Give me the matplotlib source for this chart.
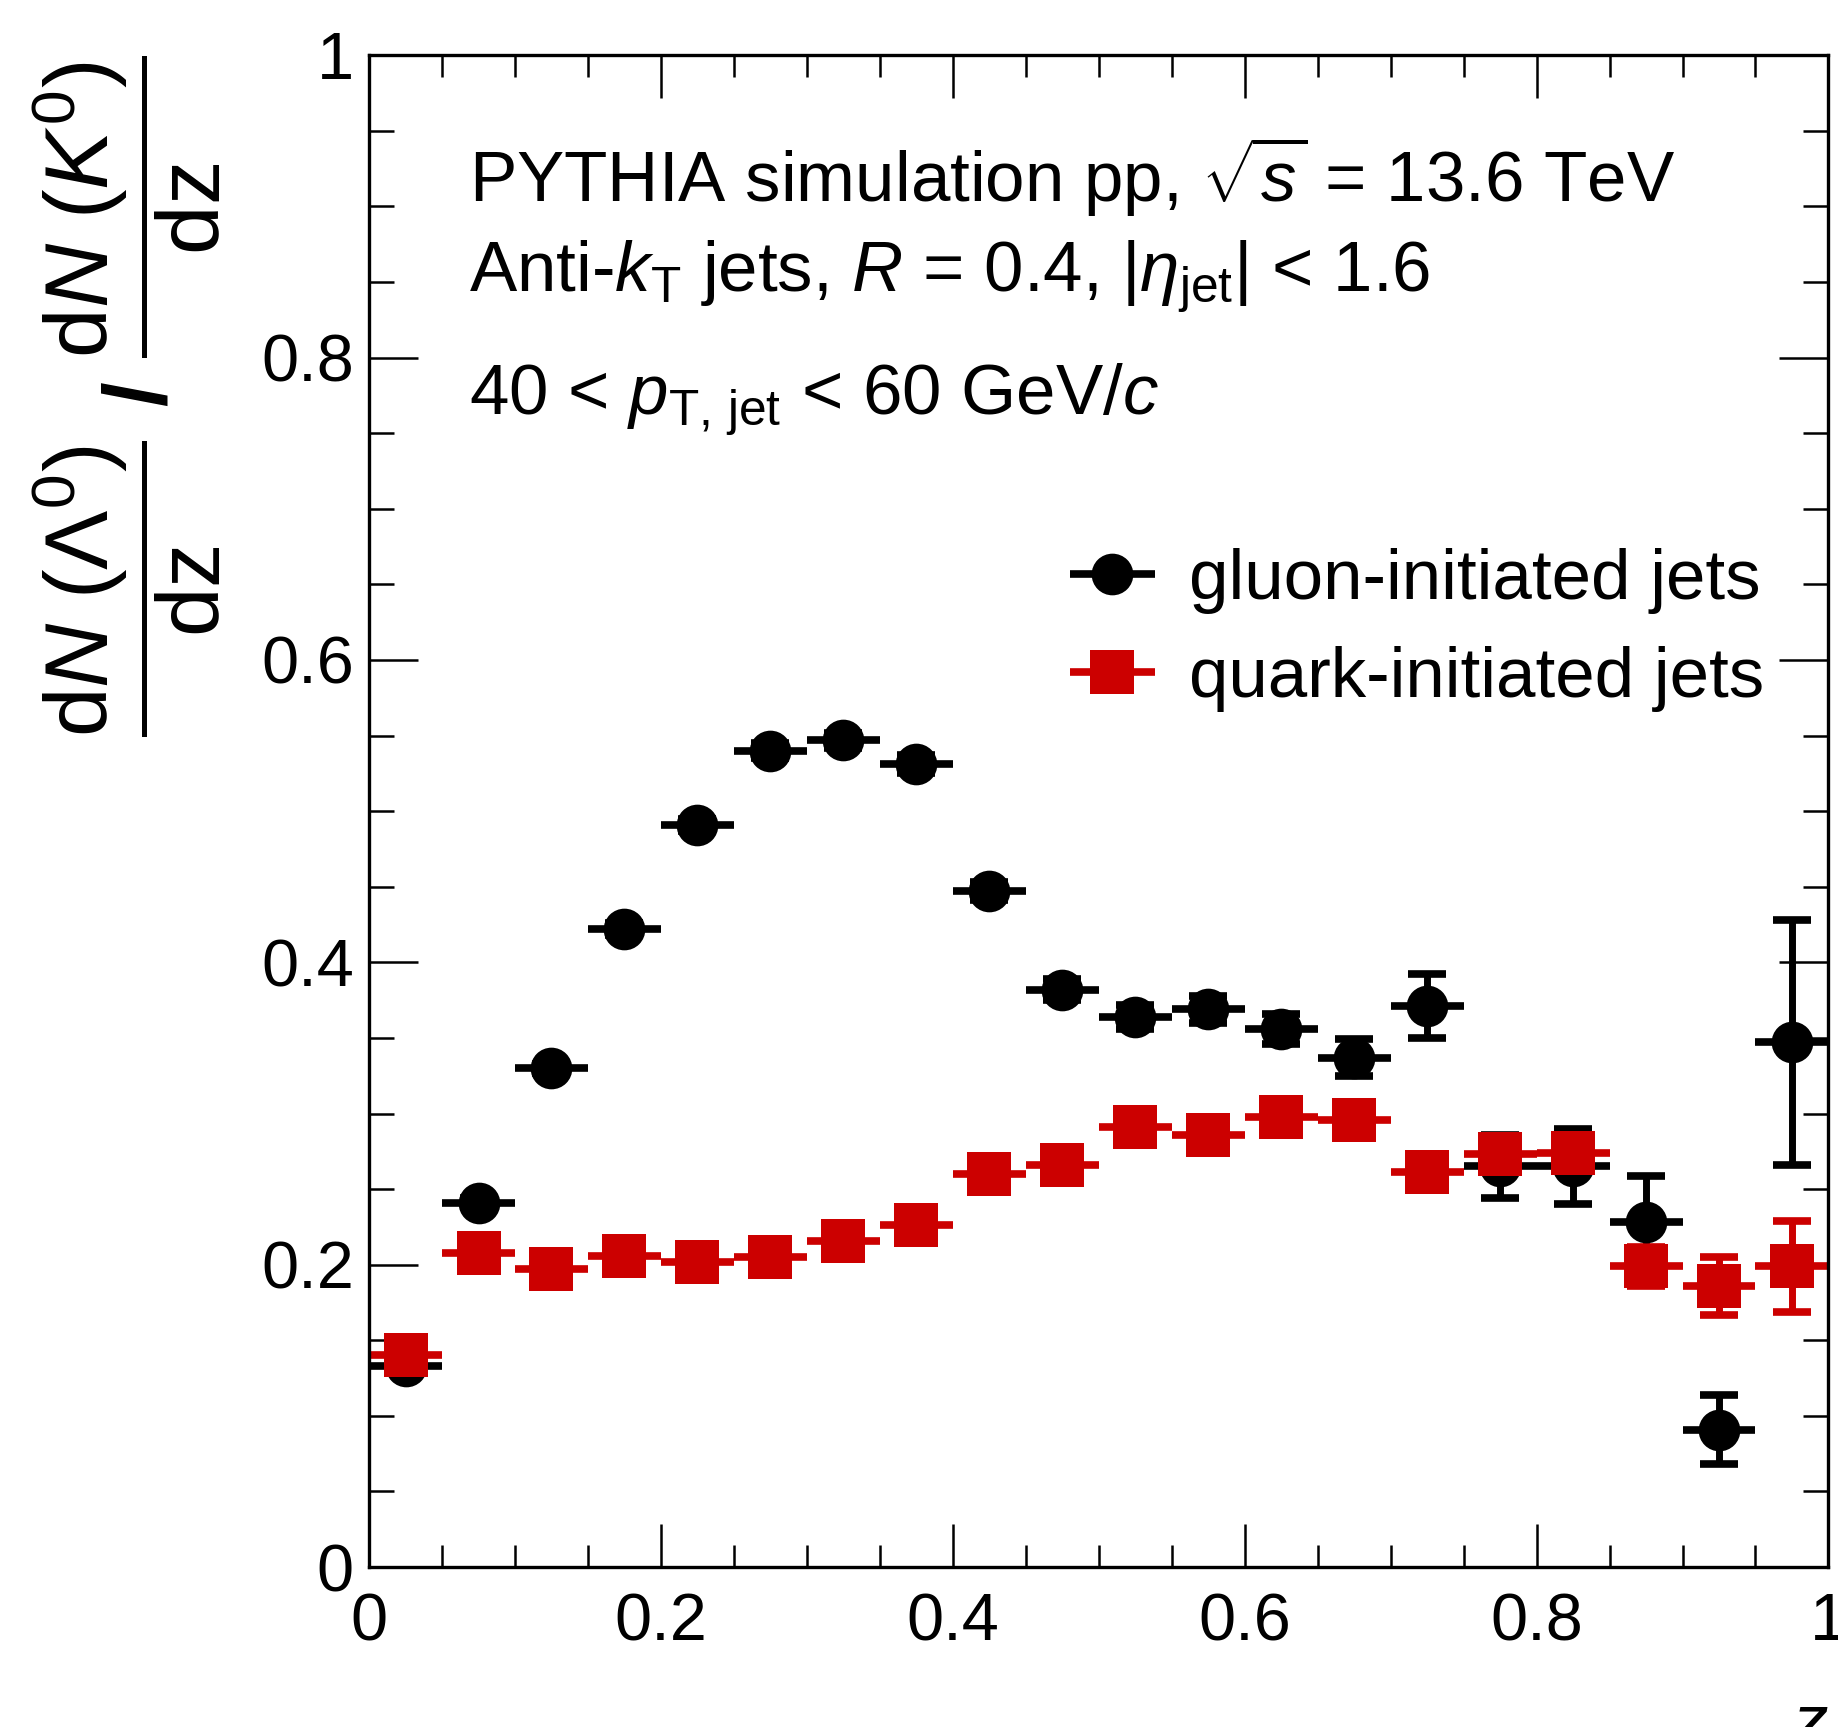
import matplotlib
matplotlib.use('Agg')
import matplotlib.pyplot as plt
from matplotlib.ticker import MultipleLocator
from matplotlib.container import ErrorbarContainer
from matplotlib.legend_handler import HandlerErrorbar

plt.rcParams['font.family'] = ['Liberation Sans', 'DejaVu Sans']
plt.rcParams['mathtext.fontset'] = 'custom'
plt.rcParams['mathtext.rm'] = 'Liberation Sans'
plt.rcParams['mathtext.it'] = 'Liberation Sans:italic'
plt.rcParams['mathtext.bf'] = 'Liberation Sans:bold'

# ---- data ----
z_centers = [0.025, 0.075, 0.125, 0.175, 0.225, 0.275, 0.325, 0.375, 0.425, 0.475,
             0.525, 0.575, 0.625, 0.675, 0.725, 0.775, 0.825, 0.875, 0.925, 0.975]
bin_half_width = 0.025

gluon_ratio = [0.133, 0.241, 0.330, 0.422, 0.491, 0.540, 0.547, 0.531, 0.447, 0.382,
               0.364, 0.369, 0.356, 0.337, 0.371, 0.265, 0.265, 0.228, 0.091, 0.347]
gluon_err = [0.002, 0.003, 0.003, 0.004, 0.004, 0.005, 0.005, 0.006, 0.006, 0.007,
             0.008, 0.009, 0.010, 0.012, 0.021, 0.021, 0.025, 0.031, 0.023, 0.081]

quark_ratio = [0.140, 0.208, 0.197, 0.206, 0.202, 0.205, 0.216, 0.226, 0.260, 0.266,
               0.291, 0.286, 0.298, 0.296, 0.261, 0.273, 0.274, 0.199, 0.186, 0.199]
quark_err = [0.001, 0.002, 0.002, 0.002, 0.002, 0.003, 0.003, 0.003, 0.004, 0.004,
             0.005, 0.005, 0.006, 0.007, 0.007, 0.009, 0.011, 0.013, 0.019, 0.030]

labels = ['gluon-initiated jets', 'quark-initiated jets']
colors = ['black', '#CC0000']

FS = 48
FS_TEXT = 51

fig = plt.figure(figsize=(18.38, 17.27), dpi=100)
ax = fig.add_axes([0.2008, 0.0926, 0.794, 0.8754])

series = [(gluon_ratio, gluon_err, 'o', 30), (quark_ratio, quark_err, 's', 31)]
handles = []
for (vals, errs, mk, ms), lab, col in zip(series, labels, colors):
    ax.errorbar(z_centers, vals, yerr=errs, fmt='none', ecolor=col,
                elinewidth=5, capsize=14, capthick=5.5)
    h = ax.errorbar(z_centers, vals, xerr=bin_half_width, fmt=mk, color=col,
                    ecolor=col, markersize=ms, elinewidth=5.5, capsize=0,
                    markeredgewidth=0, label=lab)
    handles.append(h)

ax.set_xlim(0, 1)
ax.set_ylim(0, 1)
ax.xaxis.set_major_locator(MultipleLocator(0.2))
ax.xaxis.set_minor_locator(MultipleLocator(0.05))
ax.yaxis.set_major_locator(MultipleLocator(0.2))
ax.yaxis.set_minor_locator(MultipleLocator(0.05))
ax.xaxis.set_major_formatter(matplotlib.ticker.FuncFormatter(lambda v, p: f'{v:g}'))
ax.yaxis.set_major_formatter(matplotlib.ticker.FuncFormatter(lambda v, p: f'{v:g}'))

ax.tick_params(axis='both', which='both', direction='in', top=True, right=True,
               labelsize=FS, width=1.8)
ax.tick_params(axis='x', which='major', length=31, pad=18)
ax.tick_params(axis='x', which='minor', length=16)
ax.tick_params(axis='y', which='major', length=35, pad=11)
ax.tick_params(axis='y', which='minor', length=18)
for s in ax.spines.values():
    s.set_linewidth(2.4)

ax.set_xlabel('$z$', fontsize=FS_TEXT, loc='right', labelpad=28)
ax.set_ylabel(r'$\dfrac{\mathrm{d}N\ (\Lambda^{0})}{\mathrm{dz}}\ \mathbf{/}\ '
              r'\dfrac{\mathrm{d}N\ (K^{0})}{\mathrm{dz}}$',
              fontsize=64, loc='top')
ax.yaxis.set_label_coords(-0.1, 1.0)

ax.text(0.0685, 0.903, r'PYTHIA simulation pp, $\sqrt{s}$ = 13.6 TeV',
        transform=ax.transAxes, fontsize=FS_TEXT, ha='left', va='baseline')
ax.text(0.0685, 0.844, r'Anti-$k_{\mathrm{T}}$ jets, $R$ = 0.4, |$\eta_{\mathrm{jet}}$| < 1.6',
        transform=ax.transAxes, fontsize=FS_TEXT, ha='left', va='baseline')
ax.text(0.0685, 0.763, r'40 < $p_{\mathrm{T,\,jet}}$ < 60 GeV/$c$',
        transform=ax.transAxes, fontsize=FS_TEXT, ha='left', va='baseline')

ax.legend(handles=handles, labels=labels, loc='upper left',
          bbox_to_anchor=(0.479, 0.674), frameon=False, fontsize=FS_TEXT,
          handlelength=1.25, handletextpad=0.45, labelspacing=0.45,
          borderpad=0, borderaxespad=0,
          handler_map={ErrorbarContainer: HandlerErrorbar(xerr_size=0.6)})

fig.savefig('out.png', dpi=100)
